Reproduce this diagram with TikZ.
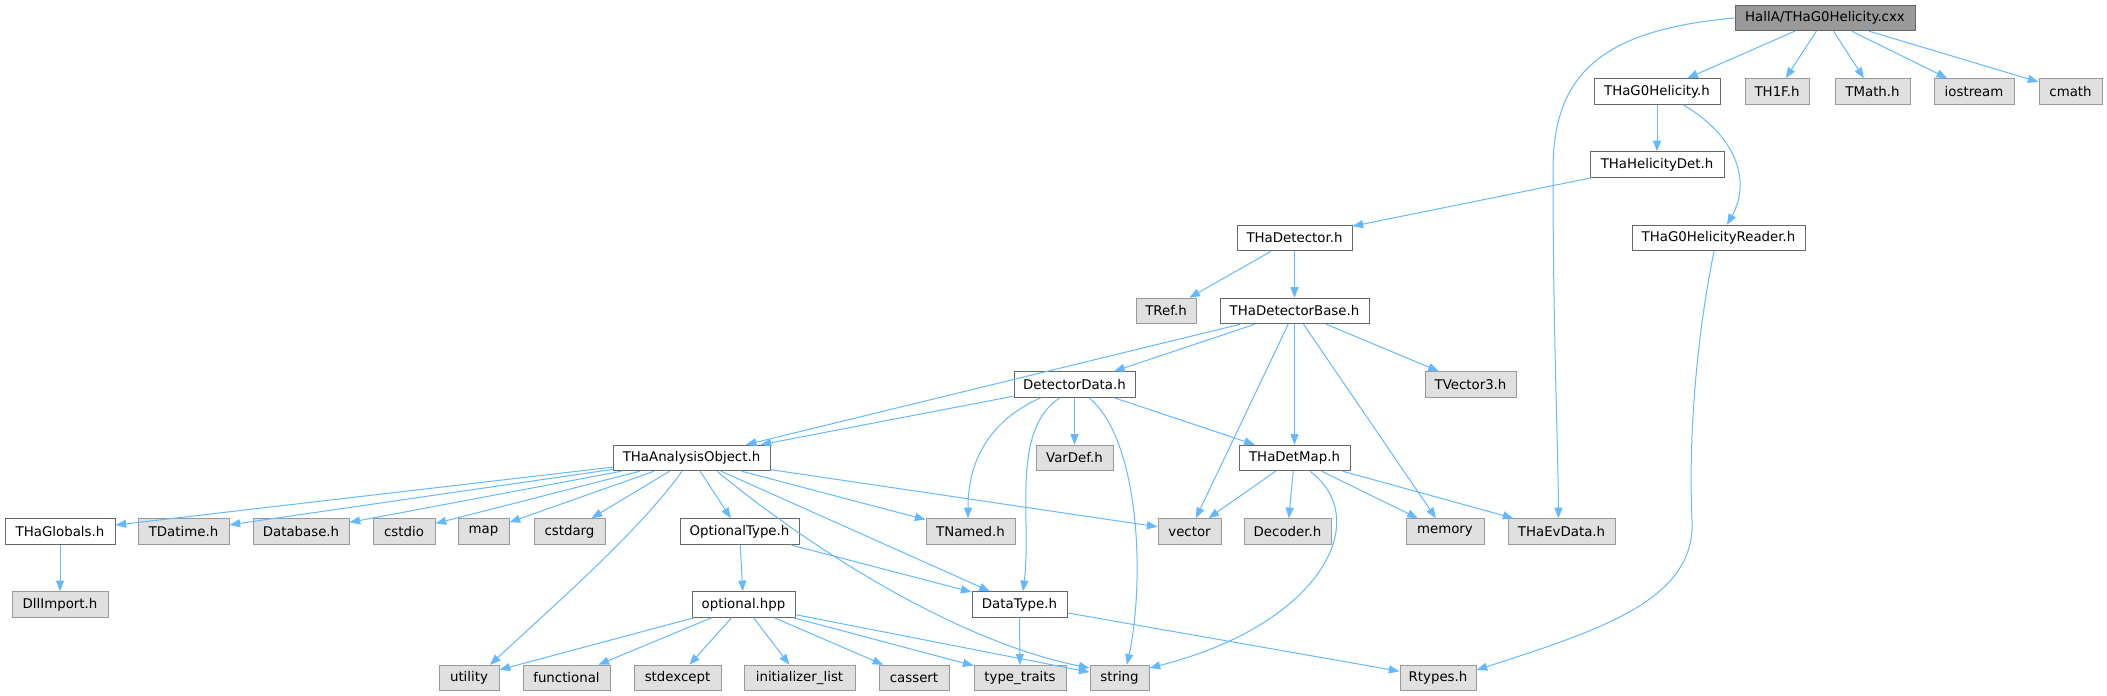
\documentclass[tikz,border=0pt]{standalone}
\usepackage{fontspec}
\setmainfont{DejaVu Sans}
\usetikzlibrary{arrows.meta,calc}
\definecolor{edgec}{HTML}{63B8FF}
\definecolor{rootfill}{HTML}{999999}
\definecolor{darkborder}{HTML}{666666}
\definecolor{grayfill}{HTML}{E0E0E0}
\definecolor{grayborder}{HTML}{999999}
\tikzset{
  box/.style={draw, line width=0.75pt, minimum height=25.5*0.75pt, inner sep=0pt,
    font=\fontsize{10}{12}\selectfont, text=black},
  wd/.style={minimum width=#1*0.75pt},
  rootbox/.style={box, fill=rootfill, draw=darkborder},
  wbox/.style={box, fill=white, draw=darkborder},
  gbox/.style={box, fill=grayfill, draw=grayborder},
  edge/.style={draw=edgec, line width=0.75pt, -{Triangle[length=8pt,width=6pt]}}
}
\begin{document}
\begin{tikzpicture}[x=0.75pt,y=-0.75pt]
\useasboundingbox (0,0) rectangle (2107,696);
% row 0
\node[rootbox, wd=180] (root) at (1825,18) {HallA/THaG0Helicity.cxx};
% row 1
\node[wbox, wd=126] (g0h) at (1657,91.5) {THaG0Helicity.h};
\node[gbox, wd=64] (th1f) at (1777,91.5) {TH1F.h};
\node[gbox, wd=75] (tmath) at (1872.5,91.5) {TMath.h};
\node[gbox, wd=80] (iostream) at (1974,91.5) {iostream};
\node[gbox, wd=63] (cmath) at (2070.5,91.5) {cmath};
% row 2
\node[wbox, wd=134] (heldet) at (1657,164.5) {THaHelicityDet.h};
% row 3
\node[wbox, wd=115] (det) at (1294.5,238) {THaDetector.h};
\node[wbox, wd=173] (reader) at (1718.5,238) {THaG0HelicityReader.h};
% row 4
\node[gbox, wd=60] (tref) at (1166,311) {TRef.h};
\node[wbox, wd=149] (detbase) at (1294.5,311) {THaDetectorBase.h};
% row 5
\node[wbox, wd=121] (detdata) at (1074.5,384.5) {DetectorData.h};
\node[gbox, wd=91] (tvector3) at (1470.5,384.5) {TVector3.h};
% row 6
\node[wbox, wd=157] (anaobj) at (691.5,458) {THaAnalysisObject.h};
\node[gbox, wd=77] (vardef) at (1074.5,458) {VarDef.h};
\node[wbox, wd=111] (detmap) at (1294.5,458) {THaDetMap.h};
% row 7
\node[wbox, wd=110] (globals) at (60,531.5) {THaGlobals.h};
\node[gbox, wd=91] (tdatime) at (183.5,531.5) {TDatime.h};
\node[gbox, wd=96] (database) at (301,531.5) {Database.h};
\node[gbox, wd=62] (cstdio) at (404,531.5) {cstdio};
\node[gbox, wd=51] (map) at (483.5,531.5) {map};
\node[gbox, wd=71] (cstdarg) at (569.5,531.5) {cstdarg};
\node[wbox, wd=119] (opttype) at (739.5,531.5) {OptionalType.h};
\node[gbox, wd=89] (tnamed) at (970.5,531.5) {TNamed.h};
\node[gbox, wd=63] (vector) at (1189.5,531.5) {vector};
\node[gbox, wd=87] (decoder) at (1287.5,531.5) {Decoder.h};
\node[gbox, wd=78] (memory) at (1445,531.5) {memory};
\node[gbox, wd=107] (evdata) at (1561.5,531.5) {THaEvData.h};
% row 8
\node[gbox, wd=96] (dllimport) at (60,604.5) {DllImport.h};
\node[wbox, wd=103] (optional) at (743.5,604.5) {optional.hpp};
\node[wbox, wd=95] (datatype) at (1019.5,604.5) {DataType.h};
% row 9
\node[gbox, wd=60] (utility) at (469,678) {utility};
\node[gbox, wd=87] (functional) at (566.5,678) {functional};
\node[gbox, wd=87] (stdexcept) at (677.5,678) {stdexcept};
\node[gbox, wd=111] (initlist) at (799.5,678) {initializer\_list};
\node[gbox, wd=70] (cassert) at (914,678) {cassert};
\node[gbox, wd=92] (typetraits) at (1020,678) {type\_traits};
\node[gbox, wd=59] (string) at (1119.5,678) {string};
\node[gbox, wd=76] (rtypes) at (1438,678) {Rtypes.h};

% edges from root
\draw[edge] (root) -- (g0h);
\draw[edge] (root) -- (th1f);
\draw[edge] (root) -- (tmath);
\draw[edge] (root) -- (iostream);
\draw[edge] (root) -- (cmath);
\draw[edge] (root.west) .. controls (1600,30) and (1553,75) .. (1553,170)
  .. controls (1553,330) and (1558,440) .. ($(evdata.north)+(-3,0)$);
% THaG0Helicity.h
\draw[edge] (g0h) -- (heldet);
\draw[edge] ($(g0h.south)+(26,0)$) .. controls (1735,135) and (1752,180) .. ($(reader.north)+(8.5,0)$);
% THaHelicityDet.h
\draw[edge] (heldet) -- (det);
% THaDetector.h
\draw[edge] (det) -- (tref);
\draw[edge] (det) -- (detbase);
% Reader
\draw[edge] ($(reader.south)+(-4.5,0)$) .. controls (1698,330) and (1688,430) .. (1692,520)
  .. controls (1696,600) and (1600,630) .. ($(rtypes.east)+(0,-8)$);
% THaDetectorBase.h
\draw[edge] (detbase) -- (anaobj);
\draw[edge] (detbase) -- (detdata);
\draw[edge] (detbase) -- (vector);
\draw[edge] (detbase) -- (detmap);
\draw[edge] (detbase) -- (memory);
\draw[edge] (detbase) -- (tvector3);
% DetectorData.h
\draw[edge] (detdata) -- (anaobj);
\draw[edge] ($(detdata.south)+(-33.5,0)$) .. controls (990,420) and (968,460) .. ($(tnamed.north)+(-2.5,0)$);
\draw[edge] ($(detdata.south)+(-14.5,0)$) .. controls (1010,430) and (1032,520) .. ($(datatype.north)+(3.5,0)$);
\draw[edge] (detdata) -- (vardef);
\draw[edge] ($(detdata.south)+(14.5,0)$) .. controls (1140,440) and (1145,580) .. ($(string.north)+(7.5,0)$);
\draw[edge] (detdata) -- (detmap);
% THaAnalysisObject.h
\draw[edge] (anaobj) -- (globals);
\draw[edge] (anaobj) -- (tdatime);
\draw[edge] (anaobj) -- (database);
\draw[edge] (anaobj) -- (cstdio);
\draw[edge] (anaobj) -- (map);
\draw[edge] (anaobj) -- (cstdarg);
\draw[edge] ($(anaobj.south)+(-9.5,0)$) .. controls (640,530) and (560,600) .. ($(utility.north)+(21,0)$);
\draw[edge] (anaobj) -- (opttype);
\draw[edge] (anaobj) -- (datatype);
\draw[edge] ($(anaobj.south)+(25.5,0)$) .. controls (800,540) and (950,640) .. ($(string.west)+(0,-10)$);
\draw[edge] (anaobj) -- (tnamed);
\draw[edge] (anaobj) -- (vector);
% OptionalType.h
\draw[edge] (opttype) -- (optional);
\draw[edge] (opttype) -- (datatype);
% optional.hpp
\draw[edge] (optional) -- (utility);
\draw[edge] (optional) -- (functional);
\draw[edge] (optional) -- (stdexcept);
\draw[edge] (optional) -- (initlist);
\draw[edge] (optional) -- (cassert);
\draw[edge] (optional) -- (typetraits);
\draw[edge] (optional) -- (string);
% DataType.h
\draw[edge] (datatype) -- (typetraits);
\draw[edge] (datatype) -- (rtypes);
% THaDetMap.h
\draw[edge] (detmap) -- (vector);
\draw[edge] (detmap) -- (decoder);
\draw[edge] ($(detmap.south)+(15.5,0)$) .. controls (1375,520) and (1320,625) .. ($(string.east)+(0,-10)$);
\draw[edge] (detmap) -- (memory);
\draw[edge] (detmap) -- (evdata);
% THaGlobals.h
\draw[edge] (globals) -- (dllimport);
\end{tikzpicture}
\end{document}
